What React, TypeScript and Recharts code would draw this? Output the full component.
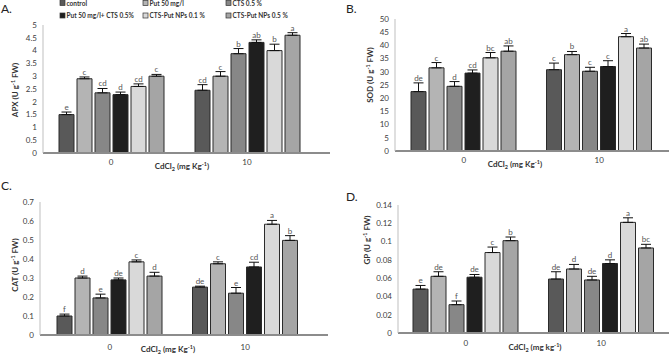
import { BarChart, Bar, XAxis, YAxis, ErrorBar, LabelList } from "recharts";

const doses = ["0", "10"];
const treatments = [
  "control",
  "Put 50 mg/l",
  "CTS 0.5 %",
  "Put 50 mg/l+ CTS 0.5%",
  "CTS-Put NPs 0.1 %",
  "CTS-Put NPs 0.5 %",
];
const fills = ["#595959", "#b4b4b4", "#878787", "#1f1f1f", "#d9d9d9", "#a5a5a5"];

// APX
const apx0 = [1.5, 2.9, 2.35, 2.28, 2.6, 3.0];
const apx10 = [2.45, 3.0, 3.88, 4.32, 4.0, 4.6];
const apxErr0 = [0.1, 0.07, 0.17, 0.1, 0.1, 0.07];
const apxErr10 = [0.22, 0.18, 0.2, 0.1, 0.25, 0.1];
const apxLetters0 = ["e", "c", "cd", "d", "cd", "c"];
const apxLetters10 = ["cd", "c", "b", "ab", "b", "a"];
const apxTicks = [0, 0.5, 1, 1.5, 2, 2.5, 3, 3.5, 4, 4.5, 5];

// SOD
const sod0 = [22.5, 31.5, 24.5, 29.5, 35.3, 37.8];
const sod10 = [30.8, 36.5, 30.2, 32, 43.3, 39];
const sodErr0 = [3.3, 2, 1.8, 1.2, 2, 2];
const sodErr10 = [2.5, 1.2, 1.5, 2.2, 1.2, 1.5];
const sodLetters0 = ["de", "c", "d", "cd", "bc", "ab"];
const sodLetters10 = ["c", "b", "c", "c", "a", "ab"];
const sodTicks = [0, 5, 10, 15, 20, 25, 30, 35, 40, 45, 50];

// CAT
const cat0 = [0.1, 0.3, 0.195, 0.29, 0.385, 0.31];
const cat10 = [0.252, 0.375, 0.22, 0.358, 0.583, 0.498];
const catErr0 = [0.01, 0.01, 0.02, 0.01, 0.01, 0.02];
const catErr10 = [0.005, 0.01, 0.03, 0.025, 0.02, 0.025];
const catLetters0 = ["f", "d", "e", "de", "c", "d"];
const catLetters10 = ["de", "c", "e", "cd", "a", "b"];
const catTicks = [0, 0.1, 0.2, 0.3, 0.4, 0.5, 0.6, 0.7];

// GP
const gp0 = [0.048, 0.062, 0.031, 0.061, 0.088, 0.101];
const gp10 = [0.059, 0.07, 0.058, 0.076, 0.121, 0.093];
const gpErr0 = [0.004, 0.005, 0.004, 0.003, 0.006, 0.004];
const gpErr10 = [0.008, 0.005, 0.004, 0.004, 0.005, 0.004];
const gpLetters0 = ["e", "de", "f", "de", "c", "b"];
const gpLetters10 = ["de", "d", "de", "d", "a", "bc"];
const gpTicks = [0, 0.02, 0.04, 0.06, 0.08, 0.1, 0.12, 0.14];

const FONT = "Lato, 'Open Sans', sans-serif";
const TICK = { fontSize: 8, fill: "#404040", fontFamily: FONT };

function buildRows(v0: number[], v10: number[], e0: number[], e10: number[], l0: string[], l10: string[]) {
  return doses.map((dose, d) => {
    const v = d === 0 ? v0 : v10;
    const e = d === 0 ? e0 : e10;
    const l = d === 0 ? l0 : l10;
    const row: any = { dose };
    treatments.forEach((_, i) => {
      row[`t${i}`] = v[i];
      row[`e${i}`] = [0, e[i]];
      row[`l${i}`] = `${l[i]}|${e[i] / v[i]}`;
    });
    return row;
  });
}

function renderLetter(p: any) {
  const vb = p.viewBox || p;
  const x = vb.x ?? p.x;
  const y = vb.y ?? p.y;
  const w = vb.width ?? p.width;
  const h = vb.height ?? p.height;
  const [letter, frac] = String(p.value).split("|");
  const top = y - Number(frac) * Math.abs(h);
  return (
    <text x={x + w / 2} y={top - 2} textAnchor="middle" fontSize={8} fill="#555" fontFamily={FONT}>
      {letter}
    </text>
  );
}

type PanelProps = {
  rows: any[];
  ticks: number[];
  left: number;
  top: number;
  width: number;
  height: number;
  margin: { top: number; right: number; left: number; bottom: number };
  padding: { left: number; right: number };
  tickGap: number;
};

function Panel({ rows, ticks, left, top, width, height, margin, padding, tickGap }: PanelProps) {
  return (
    <div style={{ position: "absolute", left, top }}>
      <BarChart width={width} height={height} data={rows} margin={margin} barGap={3}>
        <XAxis
          dataKey="dose"
          tick={TICK}
          tickLine={false}
          tickSize={tickGap}
          tickMargin={2}
          height={20}
          padding={padding}
          axisLine={{ stroke: "#8c8c8c", strokeWidth: 2 }}
        />
        <YAxis
          domain={[0, ticks[ticks.length - 1]]}
          ticks={ticks}
          interval={0}
          tick={TICK}
          tickLine={false}
          tickSize={4}
          tickMargin={2}
          width={35}
          axisLine={{ stroke: "#bfbfbf" }}
        />
        {treatments.map((name, i) => (
          <Bar
            key={name}
            name={name}
            dataKey={`t${i}`}
            fill={fills[i]}
            stroke="#2b2b2b"
            strokeWidth={1}
            barSize={15}
            isAnimationActive={false}
          >
            <ErrorBar dataKey={`e${i}`} width={5} stroke="#111" strokeWidth={1} direction="y" />
            <LabelList dataKey={`l${i}`} content={renderLetter} />
          </Bar>
        ))}
      </BarChart>
    </div>
  );
}

function XTitle({ x, y, k }: { x: number; y: number; k: string }) {
  return (
    <text x={x} y={y} textAnchor="middle" fontSize={8} fontWeight="bold" fill="#333" fontFamily={FONT}>
      CdCl
      <tspan dy={2} fontSize={5.5}>2</tspan>
      <tspan dy={-2}>{` (mg ${k}`}</tspan>
      <tspan dy={-3} fontSize={5.5}>-1</tspan>
      <tspan dy={3}>)</tspan>
    </text>
  );
}

function YTitle({ x, y, name }: { x: number; y: number; name: string }) {
  return (
    <text
      x={x}
      y={y}
      transform={`rotate(-90 ${x} ${y})`}
      textAnchor="middle"
      fontSize={8}
      fontWeight="bold"
      fill="#333"
      fontFamily={FONT}
    >
      {`${name} (U g`}
      <tspan dy={-3} fontSize={5.5}>-1</tspan>
      <tspan dy={3}> FW)</tspan>
    </text>
  );
}

export default function App() {
  const apxRows = buildRows(apx0, apx10, apxErr0, apxErr10, apxLetters0, apxLetters10);
  const sodRows = buildRows(sod0, sod10, sodErr0, sodErr10, sodLetters0, sodLetters10);
  const catRows = buildRows(cat0, cat10, catErr0, catErr10, catLetters0, catLetters10);
  const gpRows = buildRows(gp0, gp10, gpErr0, gpErr10, gpLetters0, gpLetters10);

  return (
    <div style={{ position: "absolute", left: 0, top: 0, width: 669, height: 355, background: "#fff", overflow: "hidden" }}>
      <Panel rows={apxRows} ticks={apxTicks} left={0} top={0} width={335} height={185}
        margin={{ top: 25, right: 5, left: 8, bottom: 12 }} padding={{ left: 0, right: 15 }} tickGap={4} />
      <Panel rows={sodRows} ticks={sodTicks} left={335} top={0} width={334} height={185}
        margin={{ top: 19, right: 0, left: 25, bottom: 14 }} padding={{ left: 1, right: 2 }} tickGap={4} />
      <Panel rows={catRows} ticks={catTicks} left={0} top={175} width={335} height={180}
        margin={{ top: 27, right: 7, left: 5, bottom: 0 }} padding={{ left: 2, right: 15 }} tickGap={7} />
      <Panel rows={gpRows} ticks={gpTicks} left={335} top={175} width={334} height={180}
        margin={{ top: 30, right: 0, left: 28, bottom: 2 }} padding={{ left: 0, right: 0 }} tickGap={5} />

      <svg width={669} height={355} style={{ position: "absolute", left: 0, top: 0, pointerEvents: "none" }}>
        {treatments.map((name, i) => {
          const col = i % 3;
          const row = Math.floor(i / 3);
          const x = 60 + col * 83;
          const y = 5.5 + row * 12.5;
          return (
            <g key={name}>
              <rect x={x} y={y - 5} width={5} height={5} fill={fills[i]} stroke="#333" strokeWidth={0.7} />
              <text x={x + 6.5} y={y} fontSize={6.5} fontWeight="bold" fill="#333" fontFamily={FONT}>
                {name}
              </text>
            </g>
          );
        })}

        <text x={1} y={13} fontSize={12} fill="#222" fontFamily={FONT}>A.</text>
        <text x={346} y={13} fontSize={12} fill="#222" fontFamily={FONT}>B.</text>
        <text x={1} y={190} fontSize={12} fill="#222" fontFamily={FONT}>C.</text>
        <text x={346} y={201} fontSize={12} fill="#222" fontFamily={FONT}>D.</text>

        <XTitle x={182} y={169} k="Kg" />
        <XTitle x={515} y={167} k="Kg" />
        <XTitle x={168} y={352} k="Kg" />
        <XTitle x={535} y={350} k="kg" />

        <YTitle x={18} y={90} name="APX" />
        <YTitle x={373} y={75} name="SOD" />
        <YTitle x={18} y={265} name="CAT" />
        <YTitle x={370} y={240} name="GP" />
      </svg>
    </div>
  );
}
